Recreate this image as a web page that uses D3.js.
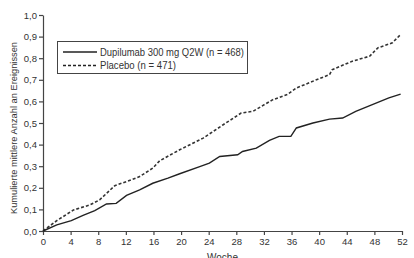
<!DOCTYPE html>
<html>
<head>
<meta charset="utf-8">
<script src="https://cdn.jsdelivr.net/npm/d3@7"></script>
<style>
    body { margin: 0; background: #fff; }
    svg text { font-family: "Liberation Sans", Arial, sans-serif; fill: #333; }
</style>
</head>
<body>
<div id="chart"></div>
<script>

// data (week, cumulative mean events)
let dupiWeeks  = [0, 2, 4.1, 5.8, 7.5, 9.2, 10.6, 12.1, 14, 15.9, 18.1, 19.8, 22.7, 24.1, 25.6, 28.2, 28.9, 30.9, 32.8, 34.2, 35.9, 36.7, 39.1, 41.5, 43.4, 45.3, 47.7, 50.1, 51.8];
let dupiValues = [0, 0.028, 0.048, 0.072, 0.094, 0.125, 0.128, 0.165, 0.19, 0.221, 0.245, 0.265, 0.298, 0.314, 0.345, 0.353, 0.368, 0.384, 0.42, 0.438, 0.438, 0.477, 0.50, 0.518, 0.523, 0.554, 0.585, 0.616, 0.634];

let placWeeks  = [0, 2, 4.4, 6.8, 8.2, 10.4, 12.1, 14, 15.9, 16.9, 19.8, 23.2, 26.1, 28.7, 30.4, 33.3, 35.4, 36.7, 39.6, 41.5, 41.9, 44.8, 47.3, 48.5, 50.6, 51.8];
let placValues = [0, 0.048, 0.097, 0.121, 0.144, 0.21, 0.229, 0.252, 0.291, 0.325, 0.376, 0.43, 0.492, 0.546, 0.554, 0.608, 0.632, 0.662, 0.70, 0.724, 0.747, 0.786, 0.809, 0.848, 0.871, 0.91];

let xTicks = d3.range(0, 53, 4);
let yTicks = d3.range(0, 1.01, 0.1);

let legendLabels = ["Dupilumab 300 mg Q2W (n = 468)", "Placebo (n = 471)"];

let width = 414, height = 258;
let margin = {top: 15, right: 12, bottom: 27, left: 43};

let svg = d3.select("#chart").append("svg")
    .attr("width", width)
    .attr("height", height);

let x = d3.scaleLinear()
    .domain([0, 52])
    .range([margin.left, 402]);

let y = d3.scaleLinear()
    .domain([0, 1])
    .range([height - margin.bottom, margin.top]);

let fmt = d => d3.format(".1f")(d).replace(".", ",");

// axes
let xAxis = svg.append("g")
    .attr("transform", `translate(0,${y(0)})`)
    .call(d3.axisBottom(x).tickValues(xTicks).tickSize(4).tickSizeOuter(0).tickPadding(3));

let yAxis = svg.append("g")
    .attr("transform", `translate(${x(0)},0)`)
    .call(d3.axisLeft(y).tickValues(yTicks).tickFormat(fmt).tickSize(4).tickSizeOuter(0).tickPadding(2));

[xAxis, yAxis].forEach(a => {
    a.select(".domain").attr("stroke", "#444").attr("stroke-width", 1.2);
    a.selectAll(".tick line").attr("stroke", "#444").attr("stroke-width", 1.2);
    a.selectAll(".tick text").style("font-size", "9.5px").attr("fill", "#333");
});

// axis titles
svg.append("text")
    .attr("transform", `translate(17,128) rotate(-90)`)
    .attr("text-anchor", "middle")
    .style("font-size", "9.3px")
    .text("Kumulierte mittlere Anzahl an Ereignissen");

svg.append("text")
    .attr("x", (x(0) + x(52)) / 2)
    .attr("y", 261)
    .attr("text-anchor", "middle")
    .style("font-size", "10px")
    .text("Woche");

// lines
let line = d3.line()
    .x(d => x(d[0]))
    .y(d => y(d[1]));

let dupi = dupiWeeks.map((w, i) => [w, dupiValues[i]]);
let plac = placWeeks.map((w, i) => [w, placValues[i]]);

svg.append("path")
    .datum(plac)
    .attr("d", line)
    .attr("fill", "none")
    .attr("stroke", "#333")
    .attr("stroke-width", 1.6)
    .attr("stroke-dasharray", "3,2");

svg.append("path")
    .datum(dupi)
    .attr("d", line)
    .attr("fill", "none")
    .attr("stroke", "#222")
    .attr("stroke-width", 1.4);

// legend
let legend = svg.append("g");

legend.append("rect")
    .attr("x", 57.5)
    .attr("y", 41.5)
    .attr("width", 190)
    .attr("height", 32)
    .attr("fill", "#fff")
    .attr("stroke", "#444")
    .attr("stroke-width", 1);

let legendWidths = [144, 76];

legendLabels.forEach((label, i) => {
    let ly = 52 + i * 13.5;
    legend.append("line")
        .attr("x1", 63).attr("x2", 97)
        .attr("y1", ly).attr("y2", ly)
        .attr("stroke", "#222")
        .attr("stroke-width", 1.4)
        .attr("stroke-dasharray", i === 1 ? "3,2" : null);
    legend.append("text")
        .attr("x", 100)
        .attr("y", ly + 3.5)
        .attr("textLength", legendWidths[i])
        .attr("lengthAdjust", "spacingAndGlyphs")
        .style("font-size", "10px")
        .text(label);
});

</script>
</body>
</html>
